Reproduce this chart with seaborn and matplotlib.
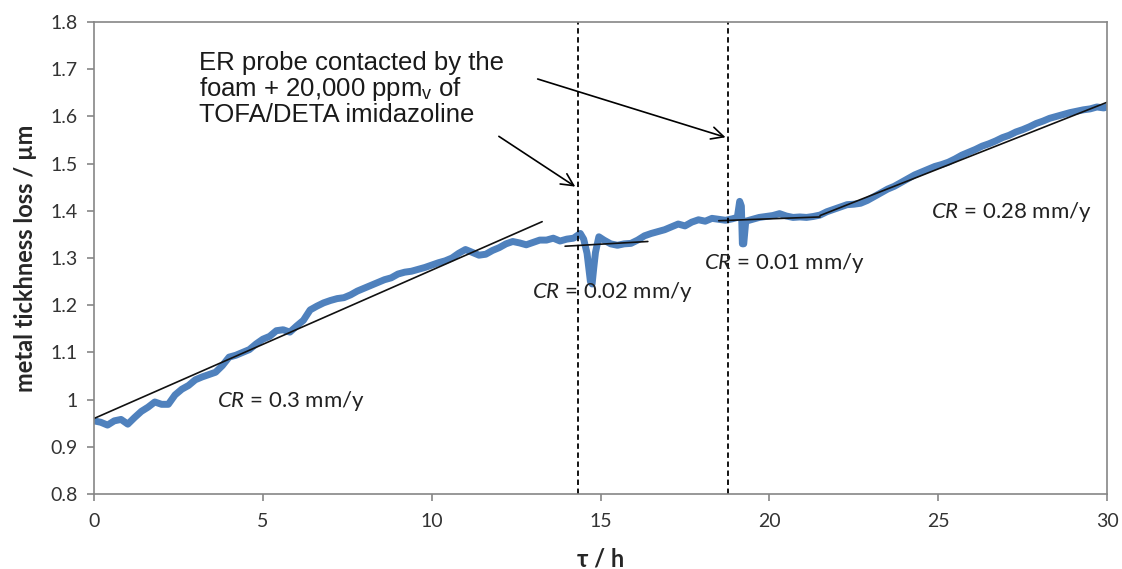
import matplotlib
matplotlib.use("Agg")
import matplotlib.pyplot as plt
import seaborn as sns
import pandas as pd

sns.set_theme(style="white")
plt.rcParams["font.family"] = ["Lato", "DejaVu Sans"]
plt.rcParams["mathtext.fontset"] = "custom"
plt.rcParams["mathtext.rm"] = "Lato"
plt.rcParams["mathtext.it"] = "Lato:italic"

# mesure ER (temps en h, perte en µm)
temps = [0.0, 0.2, 0.4, 0.6, 0.8, 1.0, 1.2, 1.4, 1.6, 1.8, 2.0, 2.2, 2.4, 2.6, 2.8,
         3.0, 3.2, 3.4, 3.6, 3.8, 4.0, 4.2, 4.4, 4.6, 4.8, 5.0, 5.2, 5.4, 5.6, 5.8,
         6.0, 6.2, 6.4, 6.6, 6.8, 7.0, 7.2, 7.4, 7.6, 7.8, 8.0, 8.2, 8.4, 8.6, 8.8,
         9.0, 9.2, 9.4, 9.6, 9.8, 10.0, 10.2, 10.4, 10.6, 10.8, 11.0, 11.2, 11.4,
         11.6, 11.8, 12.0, 12.2, 12.4, 12.6, 12.8, 13.0, 13.2, 13.4, 13.6, 13.8,
         14.0, 14.2, 14.4, 14.5, 14.6, 14.7, 14.75, 14.8, 14.85, 14.95, 15.1, 15.3,
         15.5, 15.7, 15.9, 16.1, 16.3, 16.5, 16.7, 16.9, 17.1, 17.3, 17.5, 17.7,
         17.9, 18.1, 18.3, 18.5, 18.7, 18.9, 19.05, 19.12, 19.17, 19.2, 19.24, 19.3,
         19.5, 19.7, 19.9, 20.1, 20.3, 20.5, 20.7, 20.9, 21.1, 21.3, 21.5, 21.7,
         21.9, 22.1, 22.3, 22.5, 22.7, 22.9, 23.1, 23.3, 23.5, 23.7, 23.9, 24.1,
         24.3, 24.5, 24.7, 24.9, 25.1, 25.3, 25.5, 25.7, 25.9, 26.1, 26.3, 26.5,
         26.7, 26.9, 27.1, 27.3, 27.5, 27.7, 27.9, 28.1, 28.3, 28.5, 28.7, 28.9,
         29.1, 29.3, 29.5, 29.7, 29.9, 30.0]
perte = [0.955, 0.952, 0.946, 0.955, 0.958, 0.948, 0.962, 0.975, 0.984, 0.995, 0.990,
         0.990, 1.010, 1.022, 1.030, 1.042, 1.048, 1.053, 1.058, 1.072, 1.090, 1.094,
         1.100, 1.106, 1.118, 1.128, 1.134, 1.146, 1.148, 1.143, 1.156, 1.168, 1.190,
         1.198, 1.205, 1.210, 1.214, 1.216, 1.222, 1.230, 1.236, 1.242, 1.248, 1.254,
         1.258, 1.266, 1.270, 1.272, 1.276, 1.280, 1.285, 1.290, 1.294, 1.300, 1.310,
         1.318, 1.312, 1.306, 1.308, 1.316, 1.322, 1.330, 1.335, 1.332, 1.328, 1.333,
         1.338, 1.338, 1.342, 1.336, 1.340, 1.342, 1.352, 1.340, 1.310, 1.250, 1.245,
         1.280, 1.312, 1.345, 1.338, 1.330, 1.327, 1.330, 1.331, 1.338, 1.347, 1.352,
         1.356, 1.360, 1.366, 1.372, 1.368, 1.376, 1.381, 1.378, 1.384, 1.382, 1.380,
         1.383, 1.386, 1.420, 1.410, 1.330, 1.330, 1.378, 1.382, 1.386, 1.388, 1.390,
         1.394, 1.389, 1.386, 1.387, 1.386, 1.388, 1.391, 1.398, 1.403, 1.408, 1.413,
         1.414, 1.416, 1.422, 1.430, 1.438, 1.446, 1.452, 1.460, 1.468, 1.476, 1.482,
         1.488, 1.494, 1.498, 1.503, 1.510, 1.518, 1.524, 1.530, 1.537, 1.542, 1.548,
         1.555, 1.560, 1.567, 1.572, 1.578, 1.585, 1.590, 1.596, 1.600, 1.604, 1.608,
         1.611, 1.614, 1.616, 1.620, 1.618, 1.620]

# droites de tendance (début, fin)
fit_t = [[0.0, 13.27], [13.95, 16.4], [18.5, 21.5], [21.5, 30.0]]
fit_v = [[0.960, 1.377], [1.325, 1.335], [1.379, 1.387], [1.390, 1.630]]

cr_labels = ["0.3", "0.02", "0.01", "0.28"]
cr_t = [3.63, 12.96, 18.06, 24.8]
cr_v = [0.996, 1.229, 1.289, 1.398]

injections = [14.32, 18.78]

xticks = [0, 5, 10, 15, 20, 25, 30]
yticks = [0.8, 0.9, 1.0, 1.1, 1.2, 1.3, 1.4, 1.5, 1.6, 1.7, 1.8]
ytick_labels = ["0.8", "0.9", "1", "1.1", "1.2", "1.3", "1.4", "1.5", "1.6", "1.7", "1.8"]

df = pd.DataFrame({"t": temps, "perte": perte})

fig = plt.figure(figsize=(11.22, 5.69), dpi=100)
ax = fig.add_axes([0.0838, 0.1318, 0.9029, 0.8295])

sns.lineplot(data=df, x="t", y="perte", ax=ax, color="#4F81BD", lw=5,
             estimator=None, sort=False, solid_capstyle="round")

for ft, fv in zip(fit_t, fit_v):
    ax.plot(ft, fv, color="#111111", lw=1.2)

for x0 in injections:
    ax.axvline(x0, color="black", lw=1.3, ls=(0, (3, 2)))

for lab, t, v in zip(cr_labels, cr_t, cr_v):
    ax.text(t, v, r"$\mathit{CR}$ = " + lab + " mm/y", fontsize=16,
            ha="left", va="center", color="#222222")

ax.text(3.1, 1.738, "ER probe contacted by the\nfoam + 20,000 ppm$_\\mathregular{v}$ of\nTOFA/DETA imidazoline",
        fontsize=18.5, family=["Liberation Sans", "DejaVu Sans"], ha="left", va="top",
        linespacing=1.0, color="#1a1a1a")

ax.annotate("", xy=(14.32, 1.448), xytext=(11.92, 1.561),
            arrowprops=dict(arrowstyle="->", color="black", lw=1.2, mutation_scale=22))
ax.annotate("", xy=(18.78, 1.554), xytext=(13.06, 1.681),
            arrowprops=dict(arrowstyle="->", color="black", lw=1.2, mutation_scale=22))

ax.set_xlim(0, 30)
ax.set_ylim(0.8, 1.8)
ax.set_xticks(xticks)
ax.set_yticks(yticks)
ax.set_yticklabels(ytick_labels)

for sp in ax.spines.values():
    sp.set_color("#868686")
    sp.set_linewidth(1.2)
    sp.set_visible(True)

ax.tick_params(axis="both", direction="out", length=5, width=1.2, color="#868686",
               labelsize=14, labelcolor="#333333")
ax.tick_params(axis="x", pad=9)
ax.tick_params(axis="y", pad=7)
ax.xaxis.set_ticks_position("bottom")
ax.yaxis.set_ticks_position("left")

ax.set_xlabel("τ / h", fontsize=17, fontweight="bold", va="center",
              family=["Lato", "DejaVu Sans"])
ax.set_ylabel("metal tickhness loss / µm", fontsize=17, fontweight="bold", va="center")
ax.xaxis.set_label_coords(0.5, -0.137)
ax.yaxis.set_label_coords(-0.068, 0.5)

plt.savefig("out.png", dpi=100)
plt.close()
